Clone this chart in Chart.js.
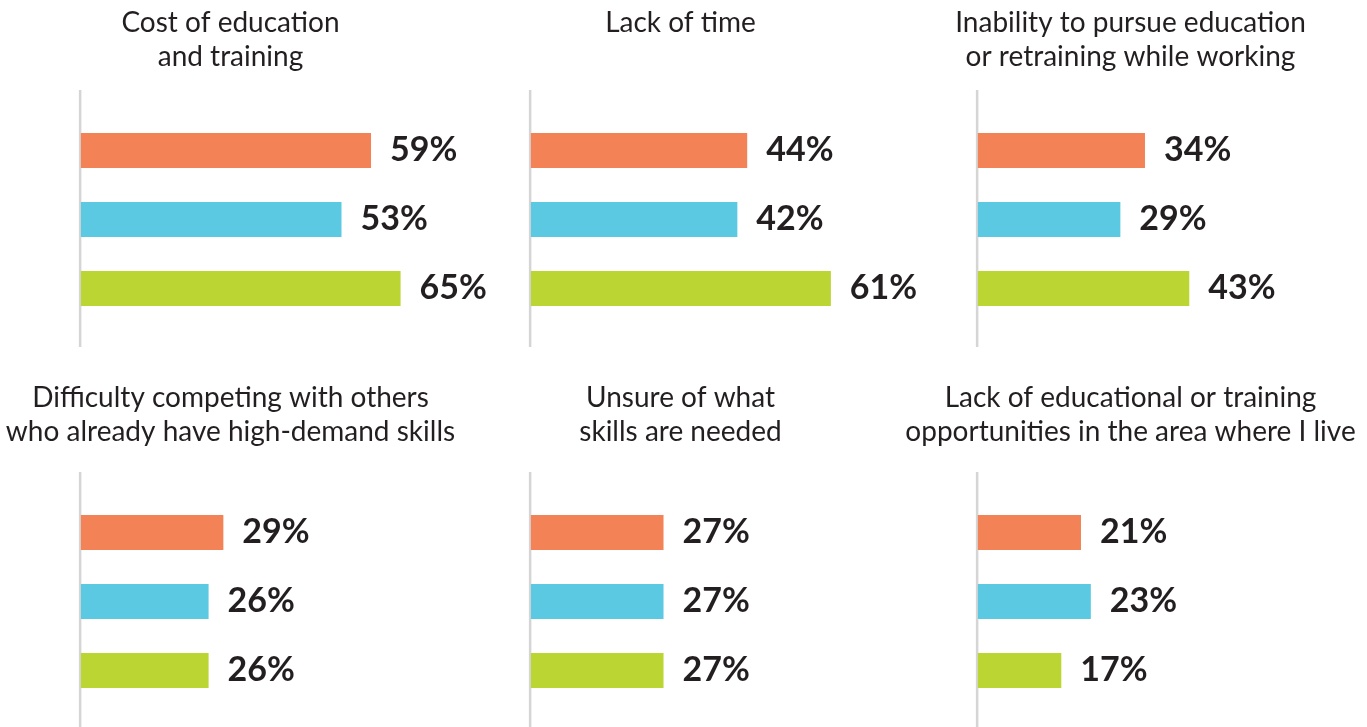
<!DOCTYPE html>
<html><head><meta charset="utf-8">
<script src="https://cdn.jsdelivr.net/npm/chart.js@4/dist/chart.umd.min.js"></script>
<style>
html,body{margin:0;padding:0;background:#fff;width:1367px;height:727px;overflow:hidden;position:relative}
canvas.p{position:absolute}
</style></head><body>
<script>
// ---- data ----
const categories = [
  ['Cost of education', 'and training'],
  ['Lack of time'],
  ['Inability to pursue education', 'or retraining while working'],
  ['Difficulty competing with others', 'who already have high-demand skills'],
  ['Unsure of what', 'skills are needed'],
  ['Lack of educational or training', 'opportunities in the area where I live']
];
const seriesNames = ['Group 1', 'Group 2', 'Group 3'];
const seriesA = [59, 44, 34, 29, 27, 21];
const seriesB = [53, 42, 29, 26, 27, 23];
const seriesC = [65, 61, 43, 26, 27, 17];
const seriesColors = ['#F38257', '#5BC9E2', '#BBD532'];

// ---- layout (pixels) ----
const axisX   = [81, 531, 978, 81, 531, 978];
const titleCX = [231, 681, 1131, 231, 681, 1131];
const rowTop  = [0, 0, 0, 375, 375, 375];
const rowH    = [360, 360, 360, 352, 352, 352];
const chartTopRel = [116, 116, 116, 123, 123, 123];
const X_MAX = 85, PX_PER = 4.925;
const TITLE_SIZE = 28, TITLE_LH = 34, TITLE_PAD_TOP = 6;
const TEXT = '#231F20';

const axisLinePlugin = {
  id: 'axisLine',
  beforeDatasetsDraw(chart) {
    const {ctx, chartArea} = chart;
    ctx.save();
    ctx.strokeStyle = '#D5D5D5';
    ctx.lineWidth = 2.5;
    ctx.beginPath();
    ctx.moveTo(chartArea.left - 0.5, chartArea.top - 26);
    ctx.lineTo(chartArea.left - 0.5, chartArea.bottom + 24);
    ctx.stroke();
    ctx.restore();
  }
};

const valueLabelPlugin = {
  id: 'valueLabels',
  afterDatasetsDraw(chart) {
    const {ctx} = chart;
    ctx.save();
    ctx.font = 'bold 34px Lato';
    ctx.fillStyle = TEXT;
    ctx.textAlign = 'left';
    ctx.textBaseline = 'middle';
    chart.data.datasets.forEach((ds, i) => {
      chart.getDatasetMeta(i).data.forEach((bar, j) => {
        ctx.fillText(ds.data[j] + '%', bar.x + 19, bar.y);
      });
    });
    ctx.restore();
  }
};

const series = [seriesA, seriesB, seriesC];

categories.forEach((cat, k) => {
  const chartW = X_MAX * PX_PER;
  const off = titleCX[k] - axisX[k];       // title center relative to axis
  const W = 2 * (chartW - off);            // canvas width so title centers correctly
  const yW = W - chartW;                   // left scale width
  const left = axisX[k] - yW;
  const H = rowH[k];
  const cv = document.createElement('canvas');
  cv.className = 'p';
  cv.width = Math.round(W); cv.height = H;
  cv.style.left = left + 'px';
  cv.style.top = rowTop[k] + 'px';
  cv.style.width = Math.round(W) + 'px';
  cv.style.height = H + 'px';
  document.body.appendChild(cv);

  const nLines = cat.length;
  const padBottom = chartTopRel[k] - TITLE_PAD_TOP - nLines * TITLE_LH;
  const bottomPad = H - chartTopRel[k] - 207;

  new Chart(cv, {
    type: 'bar',
    data: {
      labels: [cat.join(' ')],
      datasets: series.map((s, i) => ({
        label: seriesNames[i],
        data: [s[k]],
        backgroundColor: seriesColors[i],
        borderWidth: 0,
        barPercentage: 35 / 69,
        categoryPercentage: 1
      }))
    },
    options: {
      indexAxis: 'y',
      responsive: false,
      animation: false,
      devicePixelRatio: 1,
      layout: {padding: {top: 0, bottom: bottomPad, left: 0, right: 0}},
      plugins: {
        legend: {display: false},
        tooltip: {enabled: false},
        title: {
          display: true,
          text: cat,
          color: TEXT,
          font: {family: 'Lato', size: TITLE_SIZE, weight: 'normal', lineHeight: TITLE_LH + 'px'},
          padding: {top: TITLE_PAD_TOP, bottom: padBottom}
        }
      },
      scales: {
        x: {min: 0, max: X_MAX, display: false},
        y: {
          display: true,
          ticks: {display: false},
          grid: {display: false},
          border: {display: false},
          afterFit: (s) => { s.width = yW; }
        }
      }
    },
    plugins: [axisLinePlugin, valueLabelPlugin]
  });
});
</script>
</body></html>
